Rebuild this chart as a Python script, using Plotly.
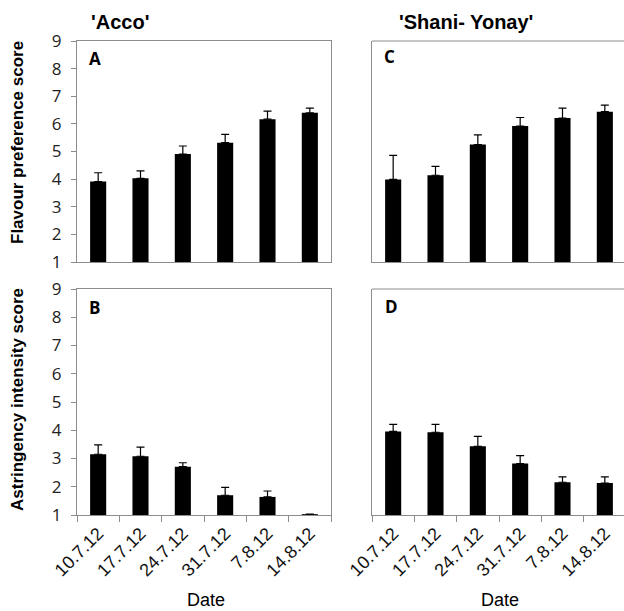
import plotly.graph_objects as go

# ---- data ----
dates = ["10.7.12", "17.7.12", "24.7.12", "31.7.12", "7.8.12", "14.8.12"]
acco_flavour = [3.91, 4.03, 4.91, 5.32, 6.17, 6.40]
acco_flavour_err = [0.32, 0.27, 0.29, 0.30, 0.29, 0.17]
acco_astr = [3.15, 3.08, 2.71, 1.70, 1.64, 1.03]
acco_astr_err = [0.33, 0.32, 0.14, 0.28, 0.21, 0.0]
shani_flavour = [3.99, 4.14, 5.25, 5.92, 6.21, 6.44]
shani_flavour_err = [0.87, 0.32, 0.35, 0.31, 0.36, 0.24]
shani_astr = [3.96, 3.93, 3.43, 2.82, 2.16, 2.13]
shani_astr_err = [0.25, 0.28, 0.35, 0.28, 0.19, 0.22]
y_ticks = [1, 2, 3, 4, 5, 6, 7, 8, 9]

W, H = 624, 611
def px(x):
    return x / W
def py(y):
    return 1 - y / H

AX = "#8c8c8c"
fig = go.Figure()

def add_bars(vals, errs, xa, ya):
    fig.add_trace(go.Bar(
        x=dates, y=vals, width=0.38, xaxis=xa, yaxis=ya,
        marker=dict(color="black", line=dict(width=0)),
        error_y=dict(type="data", array=errs, arrayminus=[0] * len(errs),
                     symmetric=False, color="black", thickness=1.2, width=4),
        showlegend=False, hoverinfo="skip"))

add_bars(acco_flavour, acco_flavour_err, "x", "y")
add_bars(acco_astr, acco_astr_err, "x2", "y2")
add_bars(shani_flavour, shani_flavour_err, "x3", "y3")
add_bars(shani_astr, shani_astr_err, "x4", "y4")

left_dom = [px(77), px(331)]
right_dom = [px(372), 1.0]
top_dom = [py(262), py(41)]
bot_dom = [py(515), py(289)]
cat_w = (331 - 77) / 6.0
right_end = -0.5 + (W - 372) / cat_w

xcommon = dict(type="category", showline=True, linecolor=AX, linewidth=1,
               showgrid=False, zeroline=False, fixedrange=True,
               automargin=False)
ycommon = dict(range=[1, 9], tickvals=y_ticks, showline=True, linecolor=AX,
               linewidth=1, showgrid=False, zeroline=False, automargin=False,
               fixedrange=True)
yfont = dict(family="Open Sans", size=17, color="#222")
xfont = dict(family="Liberation Sans", size=18, color="#111")

fig.update_layout(
    width=W, height=H, margin=dict(l=0, r=0, t=0, b=0),
    plot_bgcolor="white", paper_bgcolor="white", bargap=0.6,
    xaxis=dict(**xcommon, domain=left_dom, anchor="y", range=[-0.5, 5.5],
               mirror=True, showticklabels=False, ticks=""),
    yaxis=dict(**ycommon, domain=top_dom, anchor="x", mirror=True,
               ticks="outside", ticklen=5, tickcolor=AX, tickfont=yfont,
               ticklabelstandoff=6),
    xaxis2=dict(**xcommon, domain=left_dom, anchor="y2", range=[-0.5, 5.5],
                mirror=True, ticks="outside", tickson="boundaries",
                ticklen=6, tickcolor=AX, tickangle=-45, tickfont=xfont),
    yaxis2=dict(**ycommon, domain=bot_dom, anchor="x2", mirror=True,
                ticks="outside", ticklen=5, tickcolor=AX, tickfont=yfont,
                ticklabelstandoff=6),
    xaxis3=dict(**xcommon, domain=right_dom, anchor="y3",
                range=[-0.5, right_end], showticklabels=False, ticks=""),
    yaxis3=dict(**ycommon, domain=top_dom, anchor="x3", showticklabels=False,
                ticks=""),
    xaxis4=dict(**xcommon, domain=right_dom, anchor="y4",
                range=[-0.5, right_end], ticks="outside", tickson="boundaries",
                ticklen=6, tickcolor=AX, tickangle=-45, tickfont=xfont),
    yaxis4=dict(**ycommon, domain=bot_dom, anchor="x4", showticklabels=False,
                ticks=""),
)

# top borders of right panels (cut off at right edge)
for xr, yr in [("x3", "y3"), ("x4", "y4")]:
    fig.add_shape(type="line", xref=xr + " domain", yref=yr + " domain",
                  x0=0, x1=1, y0=1, y1=1, line=dict(color=AX, width=1))

ann = []
def text(x, y, s, size, bold=False, family="Liberation Sans", angle=0):
    ann.append(dict(x=px(x), y=py(y), xref="paper", yref="paper",
                    text=("<b>%s</b>" % s) if bold else s, showarrow=False,
                    textangle=angle, xanchor="center", yanchor="middle",
                    font=dict(family=family, size=size, color="black")))

text(120, 22, "'Acco'", 20, bold=True)
text(466, 22, "'Shani- Yonay'", 20, bold=True)
text(95, 58, "A", 17, bold=True, family="Open Sans")
text(95, 307, "B", 17, bold=True, family="Open Sans")
text(389, 57, "C", 17, bold=True, family="Open Sans")
text(391, 306, "D", 17, bold=True, family="Open Sans")
text(17, 143, "Flavour preference score", 17, bold=True, angle=-90)
text(17, 400, "Astringency intensity score", 17, bold=True, angle=-90)
text(206, 600, "Date", 18)
text(500, 600, "Date", 18)
fig.update_layout(annotations=ann)

fig.write_html("out.html", config={"displayModeBar": False},
               post_script="document.body.style.margin='0';"
                           "document.body.style.overflow='hidden';")
